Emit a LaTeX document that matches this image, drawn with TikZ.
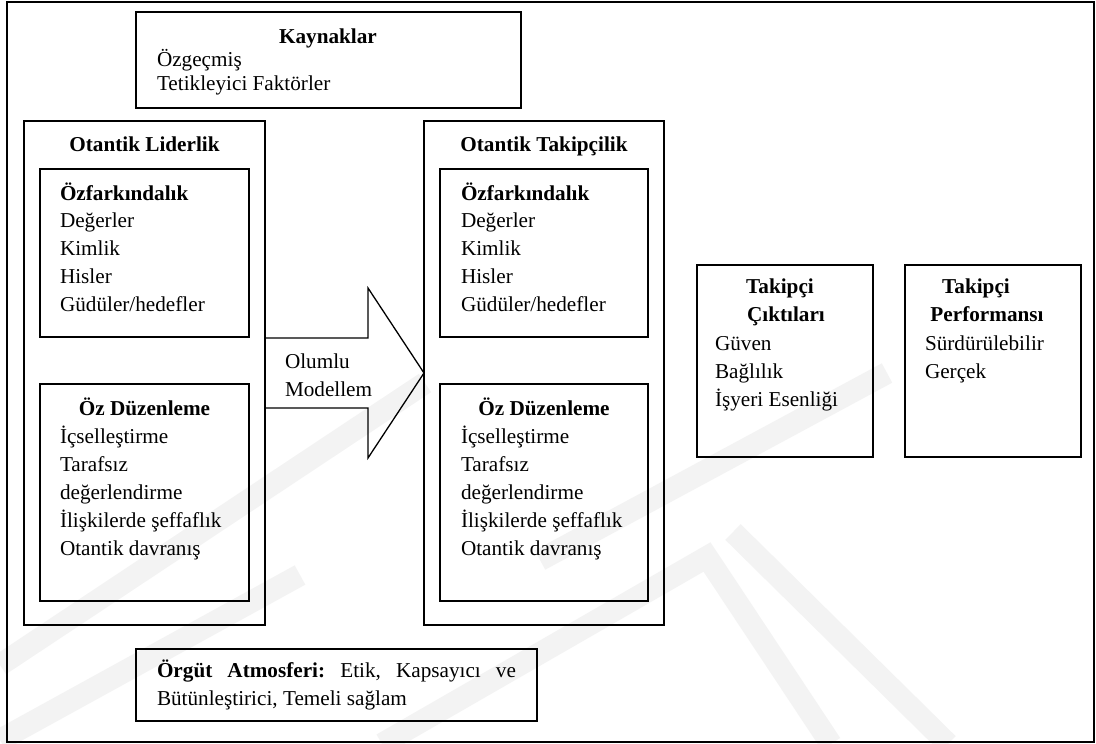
\documentclass[tikz,border=0pt]{standalone}
\usepackage{fontspec}
\setmainfont{Liberation Serif}
\frenchspacing
\definecolor{wmgray}{RGB}{243,243,243}
\tikzset{
  frame/.style={draw=black, line width=2pt},
  box/.style={draw=black, line width=1.6pt, inner sep=0pt, outer sep=0pt, anchor=north west},
  txt/.style={inner sep=0pt, outer sep=0pt, anchor=base west, font=\fontsize{21.2}{28}\selectfont},
  ttl/.style={inner sep=0pt, outer sep=0pt, anchor=base, font=\fontsize{21.2}{28}\selectfont\bfseries},
  wm/.style={draw=wmgray, line width=22pt},
  blockarrow/.style={draw=black, line width=1.3pt, line join=miter},
}
\begin{document}
\begin{tikzpicture}[x=1pt, y=-1pt]
\useasboundingbox (0,0) rectangle (1096,744);
\fill[white] (0,0) rectangle (1096,744);

% faint background logo stripes
\draw[wm] (540,560) -- (887,373);
\draw[wm] (733,532) -- (948,744);
\draw[wm] (382,744) -- (707,557) -- (831,744);
\draw[wm] (0,665) -- (425,383);
\draw[wm] (0,740) -- (300,575);

% outer frame
\node[box, frame, minimum width=1087pt, minimum height=740pt] (frm) at (7,2) {};

% sources
\node[box, minimum width=385pt, minimum height=96pt] (kay) at (136,12) {};
\node[ttl] (kayT) at (328,43) {Kaynaklar};
\node[txt] (kay1) at (157,66) {Özgeçmiş};
\node[txt] (kay2) at (157,90) {Tetikleyici Faktörler};

% authentic leadership
\node[box, minimum width=241pt, minimum height=504pt] (lid) at (24,121) {};
\node[ttl] (lidT) at (144.5,151.5) {Otantik Liderlik};
\node[box, minimum width=209pt, minimum height=168pt] (lidA) at (40,169) {};
\node[txt, font=\fontsize{21.2}{28}\selectfont\bfseries] (lidA0) at (60,200) {Özfarkındalık};
\node[txt] (lidA1) at (60,227) {Değerler};
\node[txt] (lidA2) at (60,255) {Kimlik};
\node[txt] (lidA3) at (60,283) {Hisler};
\node[txt] (lidA4) at (60,311) {Güdüler/hedefler};
\node[box, minimum width=209pt, minimum height=217pt] (lidB) at (40,384) {};
\node[ttl] (lidB0) at (144.5,415) {Öz Düzenleme};
\node[txt] (lidB1) at (60,443) {İçselleştirme};
\node[txt] (lidB2) at (60,471) {Tarafsız};
\node[txt] (lidB3) at (60,499) {değerlendirme};
\node[txt] (lidB4) at (60,527) {İlişkilerde şeffaflık};
\node[txt] (lidB5) at (60,555) {Otantik davranış};

% authentic followership
\node[box, minimum width=240pt, minimum height=504pt] (tak) at (424,121) {};
\node[ttl] (takT) at (544,151.5) {Otantik Takipçilik};
\node[box, minimum width=208pt, minimum height=168pt] (takA) at (440,169) {};
\node[txt, font=\fontsize{21.2}{28}\selectfont\bfseries] (takA0) at (461,200) {Özfarkındalık};
\node[txt] (takA1) at (461,227) {Değerler};
\node[txt] (takA2) at (461,255) {Kimlik};
\node[txt] (takA3) at (461,283) {Hisler};
\node[txt] (takA4) at (461,311) {Güdüler/hedefler};
\node[box, minimum width=208pt, minimum height=217pt] (takB) at (440,384) {};
\node[ttl] (takB0) at (544,415) {Öz Düzenleme};
\node[txt] (takB1) at (461,443) {İçselleştirme};
\node[txt] (takB2) at (461,471) {Tarafsız};
\node[txt] (takB3) at (461,499) {değerlendirme};
\node[txt] (takB4) at (461,527) {İlişkilerde şeffaflık};
\node[txt] (takB5) at (461,555) {Otantik davranış};

% positive modelling block arrow
\draw[blockarrow] (lid.east |- 0,338) -- (368,338) -- (368,288) -- (tak.west |- 0,373)
  -- (368,458) -- (368,408) -- (lid.east |- 0,408);
\node[txt] (olm1) at (285,368) {Olumlu};
\node[txt] (olm2) at (285,396) {Modellem};

% follower outcomes
\node[box, minimum width=176pt, minimum height=192pt] (cik) at (697,265) {};
\node[ttl] (cikT1) at (780,293) {Takipçi};
\node[ttl] (cikT2) at (786,321) {Çıktıları};
\node[txt] (cik1) at (715,350) {Güven};
\node[txt] (cik2) at (715,378) {Bağlılık};
\node[txt] (cik3) at (715,406) {İşyeri Esenliği};

% follower performance
\node[box, minimum width=176pt, minimum height=192pt] (per) at (905,265) {};
\node[ttl] (perT1) at (976,293) {Takipçi};
\node[ttl] (perT2) at (987,321) {Performansı};
\node[txt] (per1) at (925,350) {Sürdürülebilir};
\node[txt] (per2) at (925,378) {Gerçek};

% organisational climate
\node[box, minimum width=401pt, minimum height=72pt] (org) at (136,649) {};
\node[txt] (org1) at (157,677) {\makebox[359pt][s]{\textbf{Örgüt Atmosferi:} Etik, Kapsayıcı ve}};
\node[txt] (org2) at (157,705) {Bütünleştirici, Temeli sağlam};
\end{tikzpicture}
\end{document}
